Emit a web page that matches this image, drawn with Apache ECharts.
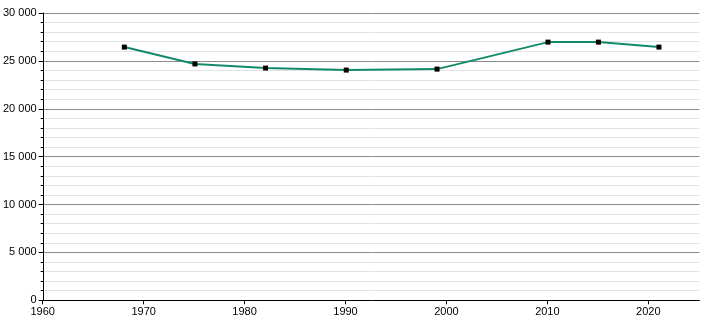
<!DOCTYPE html>
<html><head><meta charset="utf-8">
<script src="https://cdn.jsdelivr.net/npm/echarts@6/dist/echarts.min.js"></script>
<style>html,body{margin:0;padding:0;background:#fff}#c{width:710px;height:320px}</style>
</head><body><div id="c"></div>
<script>
const years = [1968, 1975, 1982, 1990, 1999, 2010, 2015, 2021];
const population = [26440, 24680, 24250, 24040, 24140, 26960, 26960, 26440];
const xTicks = [1960, 1970, 1980, 1990, 2000, 2010, 2020];
const yMax = 30000;

function fmt(v){ return String(v).replace(/\B(?=(\d{3})+(?!\d))/g, ' '); }

const chart = echarts.init(document.getElementById('c'), null, {renderer:'canvas'});
const L = 42.7, T = 13, B = 19.7;
const font = {fontFamily:'Liberation Sans, Arial, sans-serif', fontSize:11, color:'#000'};
chart.setOption({
  animation:false,
  grid:[
    {left:L, right:10.7, top:T, bottom:B, containLabel:false},
    {left:L, right:710-648.3, top:T, bottom:B, containLabel:false}
  ],
  xAxis:[
    {type:'value', gridIndex:0, min:1960, max:2025,
     axisLine:{show:true, lineStyle:{color:'#000', width:1}},
     axisTick:{show:false}, axisLabel:{show:false}, splitLine:{show:false}},
    {type:'value', gridIndex:1, min:xTicks[0], max:xTicks[xTicks.length-1], interval:10,
     axisLine:{show:false}, axisTick:{show:true, length:4, lineStyle:{color:'#000'}},
     axisLabel:Object.assign({margin:6, formatter:v=>String(v)}, font), splitLine:{show:false}}
  ],
  yAxis:[
    {type:'value', gridIndex:0, min:0, max:yMax, interval:5000,
     axisLine:{show:true, lineStyle:{color:'#000', width:1}},
     axisTick:{show:true, length:5, lineStyle:{color:'#000'}},
     minorTick:{show:true, splitNumber:5, length:3, lineStyle:{color:'#000'}},
     splitLine:{show:true, lineStyle:{color:'#8a8a8a', width:1}},
     minorSplitLine:{show:true, lineStyle:{color:'#e3e3e3', width:1}},
     axisLabel:Object.assign({margin:7, formatter:fmt}, font)},
    {type:'value', gridIndex:1, min:0, max:yMax, show:false}
  ],
  series:[{
    type:'line', xAxisIndex:0, yAxisIndex:0,
    data: years.map((y,i)=>[y, population[i]]),
    symbol:'rect', symbolSize:5, showAllSymbol:true,
    itemStyle:{color:'#000'},
    lineStyle:{color:'#13896b', width:2},
    z:5
  }]
});
</script></body></html>
